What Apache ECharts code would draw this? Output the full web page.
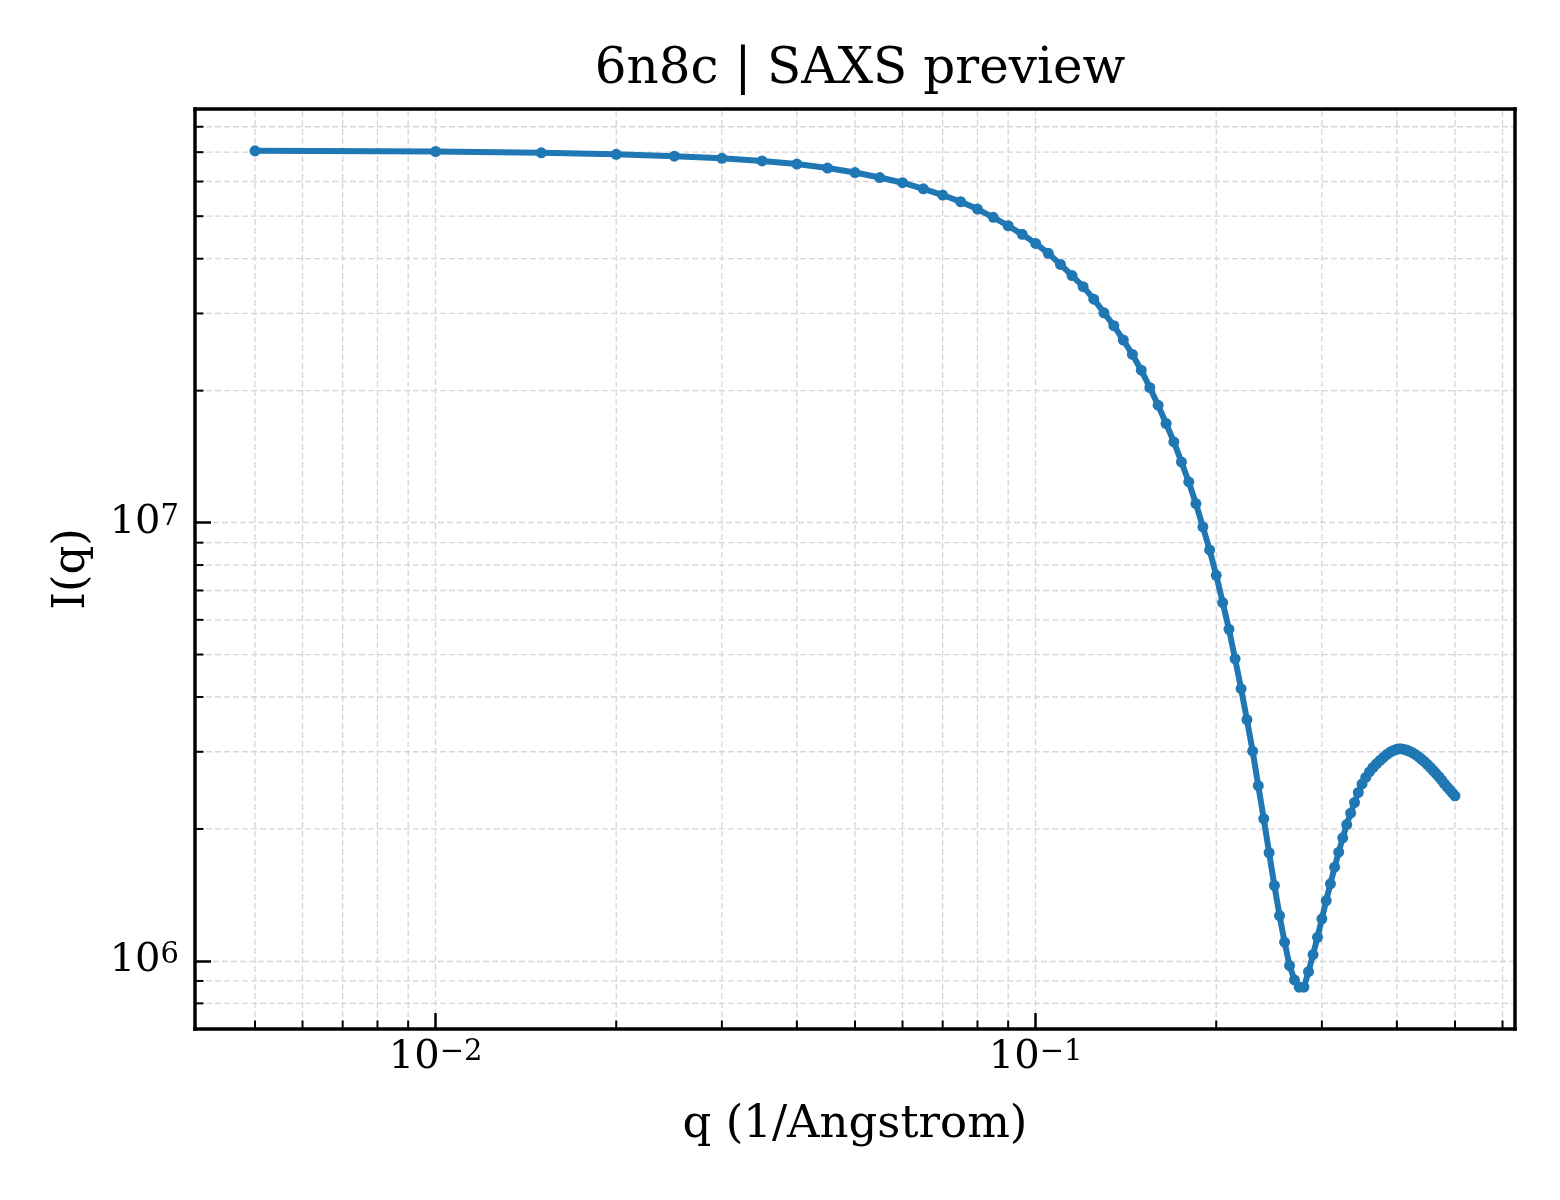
<!DOCTYPE html>
<html>
<head>
<meta charset="utf-8">
<title>6n8c | SAXS preview</title>
<script src="https://cdn.jsdelivr.net/npm/echarts@6/dist/echarts.min.js"></script>
<style>
  html, body { margin: 0; padding: 0; background: #fff; }
  #chart { width: 1560px; height: 1200px; }
</style>
</head>
<body>
<div id="chart"></div>
<script>
// q (1/Angstrom)
const qValues = [
  0.005, 0.010, 0.015, 0.020, 0.025, 0.030, 0.035, 0.040, 0.045, 0.050,
  0.055, 0.060, 0.065, 0.070, 0.075, 0.080, 0.085, 0.090, 0.095, 0.100,
  0.105, 0.110, 0.115, 0.120, 0.125, 0.130, 0.135, 0.140, 0.145, 0.150,
  0.155, 0.160, 0.165, 0.170, 0.175, 0.180, 0.185, 0.190, 0.195, 0.200,
  0.205, 0.210, 0.215, 0.220, 0.225, 0.230, 0.235, 0.240, 0.245, 0.250,
  0.255, 0.260, 0.265, 0.270, 0.275, 0.280, 0.285, 0.290, 0.295, 0.300,
  0.305, 0.310, 0.315, 0.320, 0.325, 0.330, 0.335, 0.340, 0.345, 0.350,
  0.355, 0.360, 0.365, 0.370, 0.375, 0.380, 0.385, 0.390, 0.395, 0.400,
  0.405, 0.410, 0.415, 0.420, 0.425, 0.430, 0.435, 0.440, 0.445, 0.450,
  0.455, 0.460, 0.465, 0.470, 0.475, 0.480, 0.485, 0.490, 0.495, 0.500
];

// I(q)
const intensity = [
  7.05e7, 7.025e7, 6.977e7, 6.922e7, 6.853e7, 6.779e7, 6.684e7, 6.577e7, 6.441e7, 6.29e7,
  6.127e7, 5.962e7, 5.774e7, 5.589e7, 5.395e7, 5.192e7, 4.97e7, 4.756e7, 4.546e7, 4.335e7,
  4.114e7, 3.882e7, 3.66e7, 3.454e7, 3.234e7, 3.01e7, 2.814e7, 2.608e7, 2.419e7, 2.227e7,
  2.033e7, 1.853e7, 1.683e7, 1.528e7, 1.375e7, 1.238e7, 1.105e7, 9.78e6, 8.66e6, 7.58e6,
  6.57e6, 5.71e6, 4.89e6, 4.18e6, 3.55e6, 3.01e6, 2.51e6, 2.11e6, 1.765e6, 1.486e6,
  1.269e6, 1.103e6, 9.76e5, 9.05e5, 8.71e5, 8.71e5, 9.45e5, 1.034e6, 1.132e6, 1.247e6,
  1.373e6, 1.499e6, 1.636e6, 1.77e6, 1.909e6, 2.047e6, 2.173e6, 2.298e6, 2.422e6, 2.533e6,
  2.621e6, 2.698e6, 2.762e6, 2.817e6, 2.866e6, 2.914e6, 2.958e6, 2.995e6, 3.022e6, 3.04e6,
  3.046e6, 3.041e6, 3.028e6, 3.007e6, 2.984e6, 2.954e6, 2.92e6, 2.884e6, 2.845e6, 2.805e6,
  2.762e6, 2.719e6, 2.676e6, 2.631e6, 2.586e6, 2.539e6, 2.496e6, 2.456e6, 2.417e6, 2.38e6
];

// minor tick positions (log axes, 2..9 x 10^n)
const xMinorTicks = [
  0.005, 0.006, 0.007, 0.008, 0.009,
  0.02, 0.03, 0.04, 0.05, 0.06, 0.07, 0.08, 0.09,
  0.2, 0.3, 0.4, 0.5, 0.6
];
const yMinorTicks = [
  8e5, 9e5,
  2e6, 3e6, 4e6, 5e6, 6e6, 7e6, 8e6, 9e6,
  2e7, 3e7, 4e7, 5e7, 6e7, 7e7, 8e7
];

const FONT = 'DejaVu Serif';
const GRID_COLOR = '#d6d6d6';
const LINE_COLOR = '#1f77b4';

// matplotlib-like 5% margin in log space
function logLimits(arr) {
  const lo = Math.log10(Math.min(...arr));
  const hi = Math.log10(Math.max(...arr));
  const m = (hi - lo) * 0.05;
  return [Math.pow(10, lo - m), Math.pow(10, hi + m)];
}
const xLim = logLimits(qValues);
const yLim = logLimits(intensity);

function powLabel(v) {
  const e = Math.log10(v);
  const r = Math.round(e);
  if (Math.abs(e - r) > 1e-6) return '';
  const exp = r < 0 ? '\u2212' + Math.abs(r) : String(r);
  return '{b|10}{s|' + exp + '}';
}

const labelRich = {
  b: { fontFamily: FONT, fontSize: 40, lineHeight: 40, color: '#000', verticalAlign: 'bottom', padding: [8, 0, 0, 0] },
  s: { fontFamily: FONT, fontSize: 29, lineHeight: 29, color: '#000', verticalAlign: 'top' }
};

const splitLine = {
  show: true,
  showMinLine: false,
  showMaxLine: false,
  lineStyle: { color: GRID_COLOR, width: 1.3, type: [6, 3] }
};
const spine = { show: true, onZero: false, lineStyle: { color: '#000', width: 3.5, cap: 'square' } };

// top / right frame only
const frameAxis = (lim, pos) => ({
  type: 'log', logBase: 10, min: lim[0], max: lim[1], position: pos,
  axisLine: spine, axisTick: { show: false }, axisLabel: { show: false }, splitLine: { show: false }
});

const chart = echarts.init(document.getElementById('chart'), null, { renderer: 'canvas' });

const option = {
  animation: false,
  backgroundColor: '#fff',
  title: {
    text: '6n8c | SAXS preview',
    left: 855,
    top: 40,
    textAlign: 'center',
    textStyle: { fontFamily: FONT, fontSize: 50, fontWeight: 'normal', color: '#000' }
  },
  grid: { left: 195, right: 45, top: 109, bottom: 171 },
  xAxis: [{
    type: 'log',
    logBase: 10,
    min: xLim[0],
    max: xLim[1],
    position: 'bottom',
    name: 'q (1/Angstrom)',
    nameLocation: 'middle',
    nameGap: 74,
    nameTextStyle: { fontFamily: FONT, fontSize: 45, color: '#000' },
    axisLine: spine,
    axisTick: { show: true, inside: true, length: 16, lineStyle: { color: '#000', width: 2.5 } },
    axisLabel: {
      margin: 9,
      showMinLabel: false,
      showMaxLabel: false,
      formatter: powLabel,
      rich: labelRich
    },
    splitLine: splitLine
  }, frameAxis(xLim, 'top')],
  yAxis: [{
    type: 'log',
    logBase: 10,
    min: yLim[0],
    max: yLim[1],
    position: 'left',
    name: 'I(q)',
    nameLocation: 'middle',
    nameGap: 100,
    nameTextStyle: { fontFamily: FONT, fontSize: 45, color: '#000' },
    axisLine: spine,
    axisTick: { show: true, inside: true, length: 16, lineStyle: { color: '#000', width: 2.5 } },
    axisLabel: {
      margin: 16,
      showMinLabel: false,
      showMaxLabel: false,
      formatter: powLabel,
      rich: labelRich
    },
    splitLine: splitLine
  }, frameAxis(yLim, 'right')],
  series: [
    {
      // minor grid + minor ticks on the q axis
      type: 'custom',
      silent: true,
      z: 1,
      data: xMinorTicks.map(v => [v, 1e7]),
      encode: { x: 0, y: 1 },
      renderItem: function (params, api) {
        const cs = params.coordSys;
        const px = api.coord([api.value(0), api.value(1)])[0];
        const bottom = cs.y + cs.height;
        return {
          type: 'group',
          children: [
            { type: 'line', shape: { x1: px, y1: cs.y + 2, x2: px, y2: bottom - 2 },
              style: { stroke: GRID_COLOR, lineWidth: 1.3, lineDash: [6, 3] } },
            { type: 'line', shape: { x1: px, y1: bottom, x2: px, y2: bottom - 8.5 },
              style: { stroke: '#000', lineWidth: 2 } }
          ]
        };
      }
    },
    {
      // minor grid + minor ticks on the I(q) axis
      type: 'custom',
      silent: true,
      z: 1,
      data: yMinorTicks.map(v => [0.1, v]),
      encode: { x: 0, y: 1 },
      renderItem: function (params, api) {
        const cs = params.coordSys;
        const py = api.coord([api.value(0), api.value(1)])[1];
        return {
          type: 'group',
          children: [
            { type: 'line', shape: { x1: cs.x + 2, y1: py, x2: cs.x + cs.width - 2, y2: py },
              style: { stroke: GRID_COLOR, lineWidth: 1.3, lineDash: [6, 3] } },
            { type: 'line', shape: { x1: cs.x, y1: py, x2: cs.x + 8.5, y2: py },
              style: { stroke: '#000', lineWidth: 2 } }
          ]
        };
      }
    },
    {
      name: 'I(q)',
      type: 'line',
      z: 3,
      data: qValues.map((q, i) => [q, intensity[i]]),
      symbol: 'circle',
      symbolSize: 11,
      showSymbol: true,
      showAllSymbol: true,
      lineStyle: { color: LINE_COLOR, width: 6 },
      itemStyle: { color: LINE_COLOR },
      emphasis: { disabled: true }
    }
  ]
};

chart.setOption(option);
</script>
</body>
</html>
